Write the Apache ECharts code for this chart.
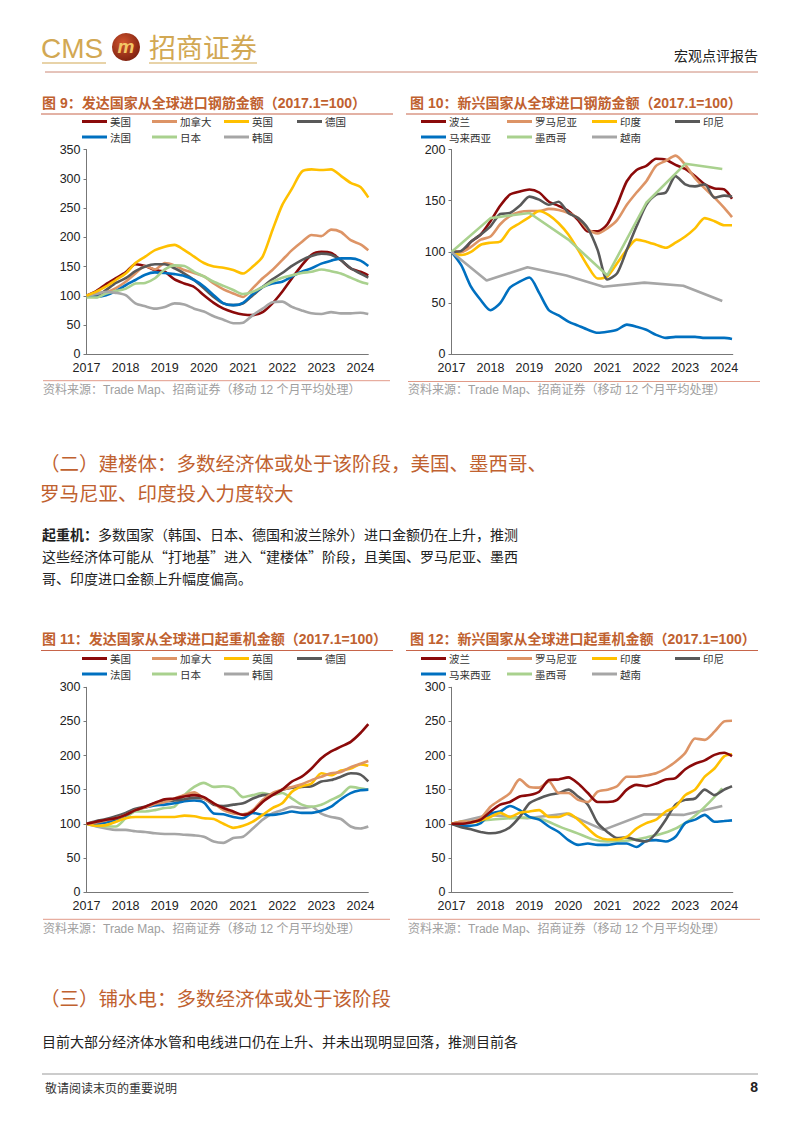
<!DOCTYPE html>
<html><head><meta charset="utf-8">
<script src="https://cdn.jsdelivr.net/npm/echarts@6/dist/echarts.min.js"></script>
<style>html,body{margin:0;padding:0;background:#fff}#c{width:802px;height:1133px}</style>
</head><body><div id="c"></div>
<script>
// ---------- data ----------
const yearTicks = [2017,2018,2019,2020,2021,2022,2023,2024];
const qx = [2017,2017.25,2017.5,2017.75,2018,2018.25,2018.5,2018.75,2019,2019.25,2019.5,2019.75,2020,2020.25,2020.5,2020.75,2021,2021.25,2021.5,2021.75,2022,2022.25,2022.5,2022.75,2023,2023.25,2023.5,2023.75,2024,2024.2];

// 图9 发达国家 钢筋
const names9 = ['美国','加拿大','英国','德国','法国','日本','韩国'];
const us9 = [100,108,120,130,140,154,151,144,141,128,121,115,101,88,78,72,68,67,72,87,107,130,152,170,175,173,161,147,141,135];
const ca9 = [100,105,106,113,124,138,151,145,156,152,144,139,133,121,111,104,98,113,130,144,161,178,192,204,202,213,209,195,188,178];
const uk9 = [100,107,116,127,138,156,167,178,184,187,178,167,156,150,148,144,138,150,167,212,255,283,312,316,315,316,305,293,286,268];
const de9 = [100,100,110,122,130,142,150,154,154,147,138,127,113,98,87,84,87,101,115,128,139,151,161,168,172,170,161,147,138,131];
const fr9 = [100,98,101,108,118,127,136,140,139,137,134,127,116,101,87,84,88,103,115,121,124,133,141,147,155,160,164,164,160,151];
const jp9 = [97,97,104,108,112,121,122,130,145,152,151,141,133,124,117,110,103,107,115,124,131,135,139,141,145,142,138,131,124,120];
const kr9 = [100,103,107,105,101,87,82,78,81,87,85,78,73,65,59,53,54,67,78,89,90,81,75,70,69,72,70,70,71,69];

// 图10 新兴国家 钢筋
const names10 = ['波兰','罗马尼亚','印度','印尼','马来西亚','墨西哥','越南'];
const pl10 = [100,100,110,117,130,145,156,159,161,158,149,145,140,131,120,120,127,146,169,180,184,191,190,185,181,174,166,162,161,152];
const ro10 = [100,100,105,112,115,127,135,139,140,140,142,141,138,133,122,118,123,131,146,158,169,184,189,194,185,172,162,153,143,134];
const in10 = [100,97,100,107,109,110,122,128,134,140,136,128,117,102,86,74,76,89,102,112,110,107,104,109,115,123,133,130,126,126];
const id10 = [100,101,110,117,125,137,138,145,154,151,146,149,138,133,123,102,73,79,102,125,146,156,158,174,166,164,166,153,155,154];
const my10 = [100,87,66,53,43,50,65,71,75,60,43,38,32,28,24,21,22,24,29,27,24,19,16,17,17,17,16,16,16,15];
const mx10x = [2017,2018,2019,2020,2021,2022,2023,2023.95];
const mx10 = [100,133,138,112,77,148,186,181];
const vn10x = [2017,2017.9,2018.95,2019.95,2020.9,2021.95,2022.95,2023.95];
const vn10 = [100,72,85,77,66,70,67,52];

// 图11 发达国家 起重机
const us11 = [100,103,106,108,113,120,125,131,136,137,140,142,139,130,123,118,113,118,132,142,150,162,169,181,196,206,213,220,233,246];
const ca11 = [100,102,105,108,113,120,124,129,132,137,142,146,137,130,120,115,114,120,135,145,150,154,158,164,169,174,176,183,188,192];
const uk11 = [100,97,98,103,108,110,110,110,110,110,112,111,108,107,100,94,97,103,113,123,130,147,155,159,174,171,178,181,187,185];
const de11 = [100,104,107,111,116,122,125,130,133,134,136,138,137,128,126,128,130,137,142,143,150,153,154,155,162,164,169,174,172,162];
const fr11 = [100,100,102,106,112,120,124,127,128,130,133,134,131,115,114,110,108,116,113,113,115,118,116,116,119,125,136,145,149,150];
const jp11 = [100,97,96,96,108,118,118,120,123,125,142,154,160,154,155,152,139,142,145,142,145,137,128,125,128,135,142,154,152,150];
const kr11 = [100,96,93,91,91,89,88,86,85,85,84,83,81,74,72,79,81,93,106,115,120,125,123,125,115,110,107,96,93,96];

// 图12 新兴国家 起重机
const pl12 = [100,100,102,106,118,128,132,140,142,147,164,165,168,159,145,132,132,135,150,157,155,159,165,167,180,188,193,201,204,199];
const ro12 = [100,103,103,108,125,135,145,165,154,153,162,145,145,135,132,147,150,155,169,169,171,174,181,191,204,225,223,235,250,251];
const in12 = [100,103,102,105,110,116,110,116,118,120,110,110,115,106,93,81,77,77,81,93,101,106,118,125,142,150,169,181,199,202];
const id12 = [100,95,92,88,86,88,95,110,130,137,142,145,150,140,128,101,88,79,80,76,74,86,106,128,135,137,150,142,150,155];
const my12 = [100,97,97,101,115,118,126,120,110,106,96,88,76,69,71,69,69,71,71,66,75,76,74,81,101,106,113,103,104,105];
const mx12x = [2017,2018,2019,2020,2021,2022,2023,2023.95];
const mx12 = [100,106,109,91,74,80,101,152];
const vn12x = [2017,2017.95,2018.95,2019.95,2020.9,2021.95,2022.95,2023.95];
const vn12 = [100,113,108,115,91,114,113,126];

// ---------- styling ----------
const COLORS = ['#8B0A0A','#DD9466','#FFC000','#595959','#0070C0','#A9D18E','#A6A6A6'];
const CJK = '"Noto Sans CJK SC"';
const LAT = '"Liberation Sans", Arial';
const TITLE_C = '#C0612F';

function ser(name, gi, xs, ys, ci, smooth) {
  return {
    name, type:'line', xAxisIndex:gi, yAxisIndex:gi, symbol:'none', smooth: smooth || 0,
    data: xs.map((x,i)=>[x, ys[i]]),
    lineStyle:{width:2.6, color:COLORS[ci]}, itemStyle:{color:COLORS[ci]},
    emphasis:{disabled:true}, animation:false
  };
}
const S = 0.25;
const series = [
  ser('美国',0,qx,us9,0,S), ser('加拿大',0,qx,ca9,1,S), ser('德国',0,qx,de9,3,S), ser('法国',0,qx,fr9,4,S),
  ser('日本',0,qx,jp9,5,S), ser('韩国',0,qx,kr9,6,S), ser('英国',0,qx,uk9,2,S),
  ser('波兰',1,qx,pl10,0,S), ser('罗马尼亚',1,qx,ro10,1,S), ser('印度',1,qx,in10,2,S), ser('印尼',1,qx,id10,3,S),
  ser('马来西亚',1,qx,my10,4,S), ser('墨西哥',1,mx10x,mx10,5,0), ser('越南',1,vn10x,vn10,6,0),
  ser('韩国',2,qx,kr11,6,S), ser('日本',2,qx,jp11,5,S), ser('法国',2,qx,fr11,4,S), ser('德国',2,qx,de11,3,S),
  ser('英国',2,qx,uk11,2,S), ser('加拿大',2,qx,ca11,1,S), ser('美国',2,qx,us11,0,S),
  ser('越南',3,vn12x,vn12,6,0), ser('墨西哥',3,mx12x,mx12,5,0.4), ser('马来西亚',3,qx,my12,4,S), ser('印尼',3,qx,id12,3,S),
  ser('印度',3,qx,in12,2,S), ser('罗马尼亚',3,qx,ro12,1,S), ser('波兰',3,qx,pl12,0,S)
];

const grids = [
  {left:86.5, top:149.5, width:281.8, height:204.8},
  {left:451.5, top:149.5, width:281.3, height:204.8},
  {left:86.5, top:687.3, width:281.8, height:204.7},
  {left:451.5, top:687.3, width:281.3, height:204.7}
];
const xmax = [2024.2, 2024.22, 2024.2, 2024.22];
const ymax = [350, 200, 300, 300];

const xAxis = grids.map((g,i)=>({
  type:'value', gridIndex:i, min:yearTicks[0], max:xmax[i], interval:1,
  axisLine:{show:true, onZero:false, lineStyle:{color:'#777', width:1}},
  axisTick:{show:false}, splitLine:{show:false},
  axisLabel:{fontSize:12.5, color:'#222', fontFamily:LAT, margin:7,
    formatter: v => (Math.abs(v - Math.round(v)) < 1e-6 ? String(Math.round(v)) : '')}
}));
const yAxis = grids.map((g,i)=>({
  type:'value', gridIndex:i, min:0, max:ymax[i], interval:50,
  axisLine:{show:true, lineStyle:{color:'#777', width:1}},
  axisTick:{show:true, length:3, lineStyle:{color:'#777'}}, splitLine:{show:false},
  axisLabel:{fontSize:12.5, color:'#222', fontFamily:LAT, margin:6}
}));

// legends: one per item, placed like the original table-style legend
function leg(name, left, cy) {
  return {data:[name], left, top:cy-6, padding:0, itemWidth:25, itemHeight:3, icon:'rect', itemGap:0,
    selectedMode:false, textStyle:{fontSize:10.5, color:'#333', fontFamily:CJK, lineHeight:12, padding:[0,0,0,-2]}};
}
const legCols9 = [82,152,224,297], legCols10 = [421,507,592,675];
const legend = [];
function legBlock(names, cols, r1, r2) {
  names.forEach((n,i)=>{ const r = i<4 ? r1 : r2; const c = cols[i<4 ? i : i-4]; legend.push(leg(n,c,r)); });
}
legBlock(names9, legCols9, 121.5, 137);
legBlock(names10, legCols10, 121.5, 137);
legBlock(names9, legCols9, 658.5, 674);
legBlock(names10, legCols10, 658.5, 674);

// ---------- page texts & rules ----------
const T = (text, x, y, font, fill, align) => ({type:'text', x, y, silent:true,
  style:{text, font, fill, align: align || 'left', verticalAlign:'middle'}});
const L = (x1,y1,x2,y2,stroke,w) => ({type:'line', silent:true, shape:{x1,y1,x2,y2}, style:{stroke, lineWidth:w}});
const GOLD = '#D2A853';
const titleFont = 'bold 14px ' + LAT + ', ' + CJK;
const srcFont = '12px ' + LAT + ', ' + CJK;
const srcText = '资料来源：Trade Map、招商证券（移动 12 个月平均处理）';
const headFont = '19.5px ' + CJK;
const bodyFont = '14px ' + CJK;
const graphic = [
  T('CMS', 41, 48, '28px ' + LAT, GOLD),
  {type:'circle', silent:true, shape:{cx:126, cy:47, r:14},
   style:{fill:{type:'radial', x:0.4, y:0.35, r:0.7, colorStops:[{offset:0,color:'#D2552E'},{offset:1,color:'#7C1F0E'}]}}},
  T('m', 126, 46, 'italic bold 19px ' + LAT, '#F3C766', 'center'),
  T('招商证券', 149, 46, '27px ' + CJK, GOLD),
  L(42,63,106,63,GOLD,1.2), L(149,63,257,63,GOLD,1.2),
  T('宏观点评报告', 758, 55, '14px ' + CJK, '#222', 'right'),
  L(45,72,758,72,'#CC8877',1),

  T('图 9：发达国家从全球进口钢筋金额（2017.1=100）', 42, 103, titleFont, TITLE_C),
  L(41,114,393,114,'#C7654A',1),
  T('图 10：新兴国家从全球进口钢筋金额（2017.1=100）', 410, 103, titleFont, TITLE_C),
  L(406,114,758,114,'#C7654A',1),
  L(43,380.7,390,380.7,'#D9806A',0.8), T(srcText, 43, 390, srcFont, '#A0A0A0'),
  L(408,381.5,760,381.5,'#D9806A',0.8), T(srcText, 408, 390, srcFont, '#A0A0A0'),

  T('（二）建楼体：多数经济体或处于该阶段，美国、墨西哥、', 40, 462, headFont, TITLE_C),
  T('罗马尼亚、印度投入力度较大', 40, 492, headFont, TITLE_C),
  T('起重机：', 42, 534, 'bold 14px ' + CJK, '#222'),
  T('多数国家（韩国、日本、德国和波兰除外）进口金额仍在上升，推测', 98, 534, bodyFont, '#222'),
  T('这些经济体可能从“打地基”进入“建楼体”阶段，且美国、罗马尼亚、墨西', 42, 556, bodyFont, '#222'),
  T('哥、印度进口金额上升幅度偏高。', 42, 578, bodyFont, '#222'),

  T('图 11：发达国家从全球进口起重机金额（2017.1=100）', 42, 639, titleFont, TITLE_C),
  L(41,650.5,393,650.5,'#C7654A',1),
  T('图 12：新兴国家从全球进口起重机金额（2017.1=100）', 410, 639, titleFont, TITLE_C),
  L(406,650.5,758,650.5,'#C7654A',1),
  L(43,919.3,390,919.3,'#D9806A',0.8), T(srcText, 43, 928.5, srcFont, '#A0A0A0'),
  L(408,919.3,760,919.3,'#D9806A',0.8), T(srcText, 408, 928.5, srcFont, '#A0A0A0'),

  T('（三）铺水电：多数经济体或处于该阶段', 40, 997, headFont, TITLE_C),
  T('目前大部分经济体水管和电线进口仍在上升、并未出现明显回落，推测目前各', 42, 1041, bodyFont, '#222'),
  L(42,1074,758,1074,'#999',1),
  T('敬请阅读末页的重要说明', 45, 1087, '12px ' + CJK, '#333'),
  T('8', 758, 1087, 'bold 14px ' + LAT, '#222', 'right')
];

const chart = echarts.init(document.getElementById('c'), null, {renderer:'svg', width:802, height:1133});
chart.setOption({
  animation:false,
  backgroundColor:'#fff',
  textStyle:{fontFamily: LAT + ', ' + CJK},
  grid: grids, xAxis, yAxis, legend, series, graphic
});
</script>
</body></html>
